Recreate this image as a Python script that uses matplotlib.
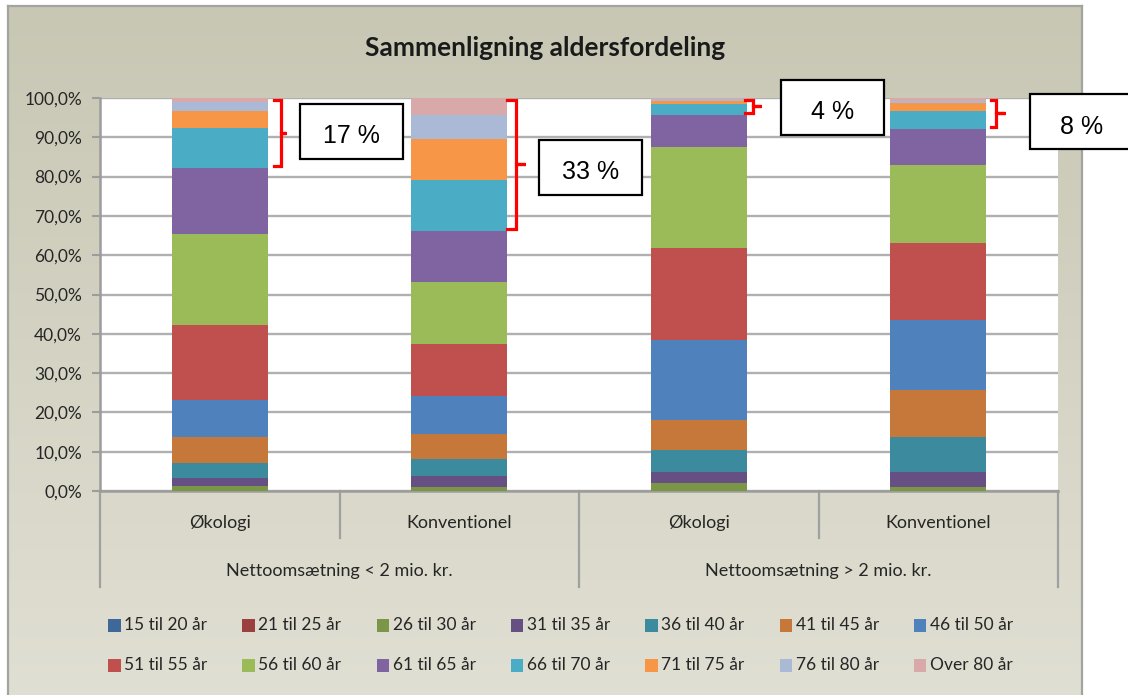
import numpy as np
import matplotlib
matplotlib.use('Agg')
import matplotlib.pyplot as plt
from matplotlib.patches import Rectangle
import matplotlib.transforms as mtransforms

# ---------------- data ----------------
series_labels = ['15 til 20 år', '21 til 25 år', '26 til 30 år', '31 til 35 år',
                 '36 til 40 år', '41 til 45 år', '46 til 50 år', '51 til 55 år',
                 '56 til 60 år', '61 til 65 år', '66 til 70 år', '71 til 75 år',
                 '76 til 80 år', 'Over 80 år']
categories = ['Økologi', 'Konventionel', 'Økologi', 'Konventionel']
groups = ['Nettoomsætning < 2 mio. kr.', 'Nettoomsætning > 2 mio. kr.']

# percentage share per age group, one list per bar
oko_small = [0.0, 0.0, 1.3, 2.1, 3.6, 6.8, 9.3, 19.2, 23.2, 16.6, 10.3, 4.4, 2.1, 1.1]
konv_small = [0.0, 0.0, 1.1, 2.7, 4.4, 6.3, 9.6, 13.3, 15.9, 12.8, 13.0, 10.4, 6.1, 4.4]
oko_large = [0.0, 0.0, 2.1, 2.8, 5.6, 7.5, 20.4, 23.4, 25.8, 8.1, 2.8, 0.7, 0.5, 0.3]
konv_large = [0.0, 0.0, 0.9, 3.9, 9.0, 11.9, 17.9, 19.5, 19.8, 9.2, 4.7, 2.0, 0.5, 0.7]

annot_labels = ['17 %', '33 %', '4 %', '8 %']

colors = ['#3F6797', '#9A403E', '#7C9647', '#664F82', '#3C8A9E', '#C6783A',
          '#4F81BD', '#C0504D', '#9BBB59', '#8064A2', '#4BACC6', '#F79646',
          '#A9B9D6', '#D9A8A8']

# ---------------- figure ----------------
plt.rcParams['font.family'] = ['Lato', 'DejaVu Sans']
W, H = 1128, 695
fig = plt.figure(figsize=(W / 100, H / 100), dpi=100)
fig.patch.set_facecolor('white')


def fx(px):
    return px / W


def fy(py):
    return 1 - py / H


# chart-area background with gradient and frame
bg = fig.add_axes([fx(8), 0, fx(1082) - fx(8), fy(6)], zorder=0)
grad = np.linspace(0, 1, 256)[:, None, None]
c_top = np.array([200, 199, 180]) / 255
c_bot = np.array([224, 223, 211]) / 255
img = c_top + (c_bot - c_top) * grad
bg.imshow(img, aspect='auto', extent=[0, 1, 0, 1], origin='upper')
bg.set_xlim(0, 1)
bg.set_ylim(0, 1)
bg.set_xticks([])
bg.set_yticks([])
for s in ['left', 'top', 'right']:
    bg.spines[s].set_color('#A3A3A0')
    bg.spines[s].set_linewidth(1.6)
bg.spines['bottom'].set_visible(False)

# main plot axes
ax = fig.add_axes([fx(100), fy(491), fx(1058) - fx(100), (491 - 98) / H], zorder=2)
ax.set_facecolor('white')

data = np.array([oko_small, konv_small, oko_large, konv_large])
x = np.arange(len(categories))
bottom = np.zeros(len(categories))
for j, lab in enumerate(series_labels):
    ax.bar(x, data[:, j], width=0.4, bottom=bottom, color=colors[j],
           label=lab, zorder=3, linewidth=0)
    bottom += data[:, j]

ax.set_xlim(-0.5, 3.5)
ax.set_ylim(0, 100)
yt = np.arange(0, 101, 10)
ax.set_yticks(yt)
ax.set_yticklabels([f"{v:.1f}%".replace('.', ',') for v in yt])
ax.yaxis.grid(True, color='#B0B0B0', linewidth=1.7)
ax.set_axisbelow(True)
ax.set_xticks([])
for s in ['top', 'right']:
    ax.spines[s].set_visible(False)
for s in ['left', 'bottom']:
    ax.spines[s].set_color('#9C9C9C')
    ax.spines[s].set_linewidth(1.8)
ax.tick_params(axis='y', direction='out', length=6, width=1.5, color='#9C9C9C',
               labelsize=12.5, labelcolor='#262626', pad=7)

# multi-level category axis
trans = mtransforms.blended_transform_factory(ax.transData, ax.transAxes)
for i, cat in enumerate(categories):
    ax.text(i, -0.081, cat, transform=trans, ha='center', va='center',
            fontsize=13, color='#262626')
for g, name in enumerate(groups):
    ax.text(2 * g + 0.5, -0.203, name, transform=trans, ha='center', va='center',
            fontsize=13, color='#262626')
for xb in [-0.5, 0.5, 1.5, 2.5, 3.5]:
    low = -0.244 if xb in (-0.5, 1.5, 3.5) else -0.12
    ax.plot([xb, xb], [0, low], transform=trans, color='#A0A0A0', lw=1.6,
            clip_on=False, zorder=1)

# brackets and boxed labels
cum = np.cumsum(data, axis=1)
br_x = [(0.225, 0.257, 0.275), (0.2, 0.236, 0.275), (0.195, 0.225, 0.262), (0.22, 0.242, 0.278)]
box_c = [(0.55, 91.6), (0.548, 82.4), (0.558, 97.7), (0.6, 94.0)]
bw, bh = 0.433, 14.0
for i in range(len(categories)):
    ylo = cum[i, 9] + 0.5
    yhi = 99.6
    ymid = (ylo + yhi) / 2
    xl, xv, xn = [i + d for d in br_x[i]]
    ax.plot([xl, xv, xv, xn, xv, xv, xl], [yhi, yhi, ymid, ymid, ymid, ylo, ylo],
            color='#FF0000', lw=2.3, solid_joinstyle='miter', clip_on=False, zorder=5)
    cx, cy = i + box_c[i][0], box_c[i][1]
    ax.add_patch(Rectangle((cx - bw / 2, cy - bh / 2), bw, bh, facecolor='white',
                           edgecolor='black', lw=1.6, clip_on=False, zorder=6))
    ax.text(cx, cy - 1.3, annot_labels[i], ha='center', va='center', fontsize=18,
            family=['Liberation Sans', 'DejaVu Sans'], color='black', zorder=7,
            clip_on=False)

# title
fig.text(fx(545), fy(56), 'Sammenligning aldersfordeling', ha='center', va='baseline',
         fontsize=19, fontweight='bold', color='#1A1A1A', zorder=3)

# legend (two rows of seven)
for j, lab in enumerate(series_labels):
    r, c = divmod(j, 7)
    mx = 108 + 134.3 * c
    my = 625 + 40 * r
    fig.patches.append(Rectangle((fx(mx), fy(my + 6.5)), 12.5 / W, 13 / H,
                                 transform=fig.transFigure, facecolor=colors[j],
                                 edgecolor='none', zorder=3))
    fig.text(fx(mx + 16), fy(my), lab, ha='left', va='center', fontsize=12.5,
             color='#262626', zorder=3)

fig.savefig('out.png', dpi=100)
